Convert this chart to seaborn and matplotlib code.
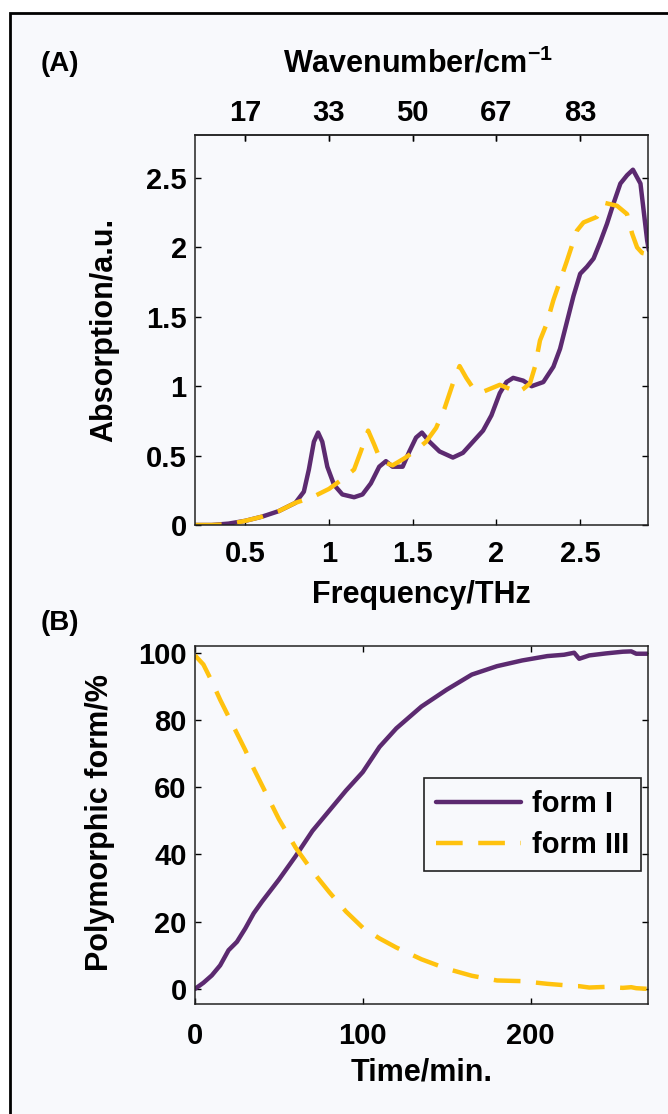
import matplotlib
matplotlib.use('Agg')
import matplotlib.pyplot as plt
from matplotlib.patches import Rectangle
import seaborn as sns

# Panel A: THz absorption spectra
freq_I = [0.20, 0.30, 0.40, 0.50, 0.60, 0.70, 0.80, 0.85, 0.88, 0.91, 0.935, 0.96, 0.99,
          1.03, 1.08, 1.15, 1.20, 1.25, 1.30, 1.34, 1.38, 1.44, 1.48, 1.52, 1.555, 1.60,
          1.66, 1.74, 1.80, 1.86, 1.92, 1.97, 2.02, 2.06, 2.10, 2.16, 2.21, 2.28, 2.34,
          2.38, 2.42, 2.46, 2.50, 2.54, 2.58, 2.62, 2.66, 2.70, 2.74, 2.78, 2.815, 2.86,
          2.90, 2.91]
abs_I = [0.00, 0.00, 0.01, 0.03, 0.06, 0.10, 0.16, 0.24, 0.40, 0.60, 0.666, 0.60, 0.42,
         0.29, 0.22, 0.20, 0.22, 0.30, 0.42, 0.46, 0.42, 0.42, 0.53, 0.63, 0.666, 0.60,
         0.53, 0.486, 0.52, 0.60, 0.68, 0.79, 0.95, 1.03, 1.06, 1.04, 1.00, 1.03, 1.14,
         1.27, 1.46, 1.65, 1.81, 1.86, 1.92, 2.04, 2.17, 2.32, 2.46, 2.52, 2.56, 2.46,
         2.05, 1.98]

freq_III = [0.20, 0.30, 0.40, 0.50, 0.60, 0.70, 0.80, 0.90, 1.00, 1.08, 1.15, 1.19, 1.234,
            1.27, 1.31, 1.38, 1.45, 1.52, 1.58, 1.64, 1.69, 1.74, 1.78, 1.82, 1.87, 1.92,
            1.96, 2.02, 2.08, 2.12, 2.16, 2.20, 2.23, 2.26, 2.30, 2.34, 2.38, 2.42, 2.48,
            2.52, 2.56, 2.60, 2.65, 2.72, 2.78, 2.81, 2.84, 2.87, 2.91]
abs_III = [0.00, 0.00, 0.005, 0.03, 0.06, 0.10, 0.16, 0.20, 0.26, 0.33, 0.40, 0.53, 0.68,
           0.58, 0.46, 0.43, 0.48, 0.54, 0.60, 0.70, 0.84, 1.02, 1.145, 1.06, 0.97, 0.96,
           0.98, 1.01, 0.98, 0.95, 0.98, 1.02, 1.14, 1.33, 1.45, 1.62, 1.76, 1.90, 2.12,
           2.18, 2.20, 2.22, 2.32, 2.30, 2.24, 2.10, 2.00, 1.96, 1.95]

freq_ticks = [0.5, 1, 1.5, 2, 2.5]
freq_labels = ['0.5', '1', '1.5', '2', '2.5']
wn_labels = ['17', '33', '50', '67', '83']
abs_ticks = [0, 0.5, 1, 1.5, 2, 2.5]
abs_labels = ['0', '0.5', '1', '1.5', '2', '2.5']

# Panel B: conversion kinetics
time_min = [0, 5, 10, 15, 20, 25, 30, 35, 40, 50, 60, 70, 80, 90, 100, 110, 120, 135,
            150, 165, 180, 195, 210, 220, 226, 229, 235, 245, 255, 260, 263, 270]
form_I = [0, 1.8, 4, 7, 11.5, 14, 18, 22.5, 26, 32.5, 39.5, 47, 53, 59, 64.5, 72, 77.5,
          84, 89, 93.5, 96, 97.7, 99, 99.4, 100, 98.2, 99.2, 99.8, 100.3, 100.4, 99.7, 99.7]
form_III = [99.2, 96.5, 91.5, 86, 81, 76, 71, 65.5, 60.5, 50.5, 42, 35, 28.8, 23, 18.2,
            15, 12.3, 8.8, 6, 3.9, 2.5, 2.3, 1.5, 1.1, 0.8, 0.8, 0.4, 0.6, 0.3, 0.5, 0.2, 0]

PURPLE = '#5c2a70'
YELLOW = '#ffc20e'
BG = '#f8f9fc'

sns.set_style('ticks')
plt.rcParams['font.family'] = ['Liberation Sans', 'DejaVu Sans']
plt.rcParams['font.weight'] = 'bold'
plt.rcParams['axes.labelweight'] = 'bold'
for key in ('text.color', 'axes.labelcolor', 'xtick.color', 'ytick.color'):
    plt.rcParams[key] = 'black'
plt.rcParams['mathtext.fontset'] = 'custom'
plt.rcParams['mathtext.rm'] = 'Liberation Sans:bold'
plt.rcParams['mathtext.bf'] = 'Liberation Sans:bold'
plt.rcParams['mathtext.default'] = 'bf'

fig = plt.figure(figsize=(6.68, 11.14), dpi=100, facecolor='white')
# page frame: only the top and left edges fall inside the picture
fig.patches.append(Rectangle((9.5 / 668, -0.01), 1.0, 1 - 12.5 / 1114 + 0.01,
                             transform=fig.transFigure, facecolor=BG,
                             edgecolor='black', lw=2, zorder=-5))

ax_a = fig.add_axes([195 / 668, 1 - 525 / 1114, 453 / 668, 390 / 1114])
ax_b = fig.add_axes([195 / 668, 1 - 1004 / 1114, 453 / 668, 358 / 1114])

for ax in (ax_a, ax_b):
    ax.set_facecolor(BG)
    for s in ax.spines.values():
        s.set_linewidth(1.1)
        s.set_color('#222222')
    ax.tick_params(direction='in', length=4.5, width=1.0, labelsize=21,
                   top=True, right=True)

# ---- panel A ----
sns.lineplot(x=freq_I, y=abs_I, ax=ax_a, color=PURPLE, lw=3.2)
sns.lineplot(x=freq_III, y=abs_III, ax=ax_a, color=YELLOW, lw=3.2)
ax_a.lines[-1].set_dashes((6, 3.5))
ax_a.set_xlim(0.2, 2.905)
ax_a.set_ylim(0, 2.81)
ax_a.set_xticks(freq_ticks, labels=freq_labels)
ax_a.set_yticks(abs_ticks, labels=abs_labels)
ax_a.tick_params(axis='x', pad=11)
ax_a.tick_params(axis='y', pad=6)
ax_a.set_xlabel('Frequency/THz', fontsize=22)
ax_a.set_ylabel('Absorption/a.u.', fontsize=22)
ax_a.xaxis.set_label_coords(0.5, -0.179)
ax_a.xaxis.label.set_va('center')
ax_a.yaxis.set_label_coords(-0.201, 0.5)
ax_a.yaxis.label.set_va('center')

top = ax_a.secondary_xaxis('top')
top.set_xticks(freq_ticks, labels=wn_labels)
top.tick_params(direction='in', length=4.5, width=1.0, labelsize=21, pad=6)
top.spines['top'].set_linewidth(1.1)
ax_a.text(0.492, 1.182, 'Wavenumber/cm$^{-1}$', transform=ax_a.transAxes,
          ha='center', va='center', fontsize=22, fontweight='bold')

# ---- panel B ----
sns.lineplot(x=time_min, y=form_I, ax=ax_b, color=PURPLE, lw=3.2, label='form I')
sns.lineplot(x=time_min, y=form_III, ax=ax_b, color=YELLOW, lw=3.2, label='form III')
ax_b.lines[-1].set_dashes((6, 3.5))
ax_b.set_xlim(0, 270)
ax_b.set_ylim(-4.5, 102)
ax_b.set_xticks([0, 100, 200])
ax_b.set_yticks([0, 20, 40, 60, 80, 100])
ax_b.tick_params(axis='x', pad=13)
ax_b.tick_params(axis='y', pad=6)
ax_b.set_xlabel('Time/min.', fontsize=22)
ax_b.set_ylabel('Polymorphic form/%', fontsize=22)
ax_b.xaxis.set_label_coords(0.5, -0.19)
ax_b.xaxis.label.set_va('center')
ax_b.yaxis.set_label_coords(-0.21, 0.506)
ax_b.yaxis.label.set_va('center')

leg = ax_b.legend(loc='upper right', bbox_to_anchor=(0.985, 0.631), borderaxespad=0,
                  fontsize=21, handlelength=2.9, fancybox=False, framealpha=1,
                  facecolor=BG, edgecolor='#222222', labelspacing=0.45,
                  handletextpad=0.4, borderpad=0.4)
leg.get_frame().set_linewidth(1.2)
for h in leg.get_lines():
    h.set_linewidth(3.2)

fig.text(60 / 668, 1 - 64 / 1114, '(A)', ha='center', va='center', fontsize=20,
         fontweight='bold')
fig.text(60 / 668, 1 - 623 / 1114, '(B)', ha='center', va='center', fontsize=20,
         fontweight='bold')

fig.savefig('out.png', dpi=100, facecolor=fig.get_facecolor())
